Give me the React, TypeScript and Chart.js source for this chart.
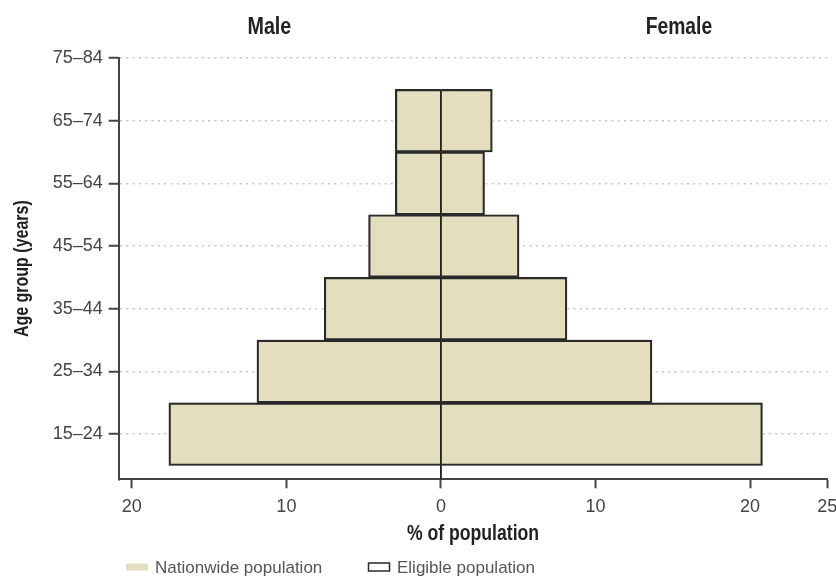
import { useEffect, useRef } from "react";
import { Chart, registerables } from "chart.js";

Chart.register(...registerables);

// ---- Data ----
const ageGroups = ["15–24", "25–34", "35–44", "45–54", "55–64", "65–74", "75–84"];
const maleNationwide: (number | null)[] = [17.6, 11.9, 7.55, 4.68, 2.95, 2.95, null];
const femaleNationwide: (number | null)[] = [20.8, 13.65, 8.15, 5.05, 2.82, 3.32, null];
const maleEligible: (number | null)[] = [17.6, 11.9, 7.55, 4.68, 2.95, 2.95, null];
const femaleEligible: (number | null)[] = [20.8, 13.65, 8.15, 5.05, 2.82, 3.32, null];
const xTickValues = [-20, -10, 0, 10, 20, 25];
const xMin = -20.85;
const xMax = 25;
const yMin = -0.72;
const yMax = 6;
const legendLabels = ["Nationwide population", "Eligible population"];
const sideLabels = ["Male", "Female"];
const xTitle = "% of population";
const yTitle = "Age group (years)";

const BEIGE = "#e2debe";
const DARK = "#2a2a2a";
const AXIS = "#444444";
const REG_FONT = "'Liberation Sans', Arial, sans-serif";
const BOLD_FONT = "'Liberation Sans', Arial, sans-serif";
const NARROW = 0.82;

function toPoints(values: (number | null)[], sign: number) {
  const pts: { x: number; y: number }[] = [];
  values.forEach((v, i) => {
    if (v !== null) pts.push({ x: sign * v, y: i });
  });
  return pts;
}

function narrowText(ctx: CanvasRenderingContext2D, text: string, x: number, y: number, font: string, rotate = 0) {
  ctx.save();
  ctx.translate(x, y);
  if (rotate) ctx.rotate(rotate);
  ctx.scale(NARROW, 1);
  ctx.font = font;
  ctx.textAlign = "center";
  ctx.textBaseline = "alphabetic";
  ctx.fillText(text, 0, 0);
  ctx.restore();
}

const decorPlugin = {
  id: "decor",
  afterDatasetsDraw(chart: any) {
    const { ctx, scales } = chart;
    const x0 = scales.x.getPixelForValue(0);
    const yTop = scales.y.getPixelForValue(5.5);
    const yBot = chart.chartArea.bottom;
    ctx.save();
    ctx.strokeStyle = "#1e1e1e";
    ctx.lineWidth = 1.8;
    ctx.beginPath();
    ctx.moveTo(x0, yTop);
    ctx.lineTo(x0, yBot);
    ctx.stroke();
    ctx.restore();
  },
  afterDraw(chart: any) {
    const { ctx, chartArea, scales } = chart;
    ctx.save();
    ctx.fillStyle = "#222";
    narrowText(ctx, sideLabels[0], scales.x.getPixelForValue(-11.1), 34, `bold 24px ${BOLD_FONT}`);
    narrowText(ctx, sideLabels[1], scales.x.getPixelForValue(15.4), 34, `bold 23.5px ${BOLD_FONT}`);
    narrowText(ctx, xTitle, (chartArea.left + chartArea.right) / 2, 540, `bold 21.5px ${BOLD_FONT}`);
    narrowText(ctx, yTitle, 28, (chartArea.top + chartArea.bottom) / 2, `bold 19.5px ${BOLD_FONT}`, -Math.PI / 2);

    // legend
    ctx.textAlign = "left";
    ctx.textBaseline = "alphabetic";
    ctx.fillStyle = BEIGE;
    ctx.fillRect(126, 563.5, 22, 7);
    ctx.strokeStyle = DARK;
    ctx.lineWidth = 1.5;
    ctx.strokeRect(368.5, 563, 21, 8);
    ctx.fillStyle = "#555";
    ctx.font = `17px ${REG_FONT}`;
    ctx.fillText(legendLabels[0], 155, 573);
    ctx.fillText(legendLabels[1], 397, 573);
    ctx.restore();
  },
};

export default function App() {
  const canvasRef = useRef<HTMLCanvasElement | null>(null);

  useEffect(() => {
    if (!canvasRef.current) return;
    const chart = new Chart(canvasRef.current, {
      type: "bar",
      data: {
        datasets: [
          {
            label: "Eligible male",
            data: toPoints(maleEligible, -1),
            backgroundColor: "rgba(0,0,0,0)",
            borderColor: DARK,
            borderWidth: 1.5,
            grouped: false,
            order: 0,
          },
          {
            label: "Eligible female",
            data: toPoints(femaleEligible, 1),
            backgroundColor: "rgba(0,0,0,0)",
            borderColor: DARK,
            borderWidth: 1.5,
            grouped: false,
            order: 0,
          },
          {
            label: "Nationwide male",
            data: toPoints(maleNationwide, -1),
            backgroundColor: BEIGE,
            borderWidth: 0,
            grouped: false,
            order: 1,
          },
          {
            label: "Nationwide female",
            data: toPoints(femaleNationwide, 1),
            backgroundColor: BEIGE,
            borderWidth: 0,
            grouped: false,
            order: 1,
          },
        ] as any,
      },
      options: {
        indexAxis: "y",
        animation: false,
        responsive: true,
        maintainAspectRatio: false,
        layout: { padding: { left: 0, top: 58, right: 8.7, bottom: 0 } },
        datasets: { bar: { barPercentage: 1, categoryPercentage: 1 } } as any,
        plugins: {
          legend: { display: false },
          tooltip: { enabled: false },
        },
        scales: {
          x: {
            type: "linear",
            min: xMin,
            max: xMax,
            offset: false,
            afterBuildTicks: (s: any) => {
              s.ticks = xTickValues.map((v) => ({ value: v }));
            },
            afterFit: (s: any) => {
              s.height = 97.7;
              s.paddingLeft = 0;
              s.paddingRight = 0;
            },
            ticks: {
              callback: (v: any) => String(Math.abs(Number(v))),
              color: "#444",
              font: { family: REG_FONT, size: 18 },
              padding: 8,
              maxRotation: 0,
              autoSkip: false,
            },
            grid: {
              offset: false,
              drawOnChartArea: false,
              drawTicks: true,
              tickLength: 9,
              tickColor: AXIS,
              tickWidth: 2,
            },
            border: { color: AXIS, width: 2 },
          },
          y: {
            type: "linear",
            min: yMin,
            max: yMax,
            offset: false,
            afterBuildTicks: (s: any) => {
              s.ticks = ageGroups.map((_, i) => ({ value: i }));
            },
            afterFit: (s: any) => {
              s.width = 118.7;
              s.paddingTop = 0;
              s.paddingBottom = 0;
            },
            ticks: {
              callback: (v: any) => ageGroups[Number(v)] ?? "",
              color: "#444",
              font: { family: REG_FONT, size: 18 },
              padding: 6,
              autoSkip: false,
            },
            grid: {
              offset: false,
              color: "#c4c4c4",
              lineWidth: 1.5,
              drawTicks: true,
              tickLength: 10,
              tickColor: AXIS,
              tickWidth: 2,
            },
            border: { color: AXIS, width: 2, dash: [2, 4.3] },
          },
        },
      } as any,
      plugins: [decorPlugin],
    });
    return () => chart.destroy();
  }, []);

  return (
    <div style={{ position: "absolute", left: 0, top: 0, width: 836, height: 577, background: "#fff" }}>
      <canvas ref={canvasRef} />
    </div>
  );
}
